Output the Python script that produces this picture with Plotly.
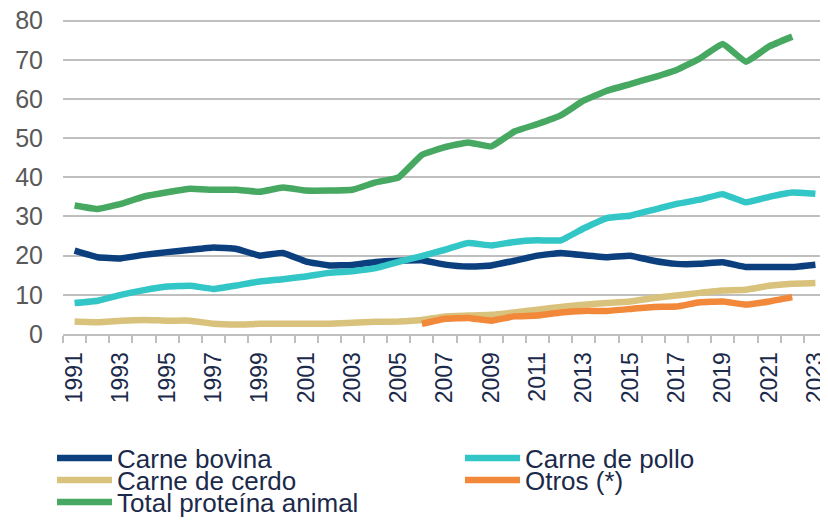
import plotly.graph_objects as go

years = list(range(1991, 2024))

carne_bovina = [21.3, 19.6, 19.3, 20.2, 20.9, 21.5, 22.1, 21.7, 20.0, 20.7,
                18.5, 17.5, 17.6, 18.4, 18.7, 18.8, 17.7, 17.2, 17.5, 18.7,
                20.0, 20.7, 20.1, 19.6, 20.0, 18.7, 17.9, 17.9, 18.3, 17.1,
                17.1, 17.1, 17.7]
carne_pollo = [7.9, 8.5, 10.0, 11.2, 12.1, 12.3, 11.5, 12.4, 13.4, 14.0,
               14.7, 15.6, 16.0, 16.8, 18.4, 19.9, 21.5, 23.2, 22.6, 23.5,
               23.9, 23.9, 27.0, 29.6, 30.2, 31.7, 33.2, 34.3, 35.7, 33.6,
               35.0, 36.1, 35.8]
carne_cerdo = [3.2, 3.0, 3.4, 3.6, 3.4, 3.4, 2.6, 2.4, 2.6, 2.6,
               2.6, 2.6, 2.9, 3.1, 3.2, 3.6, 4.5, 4.7, 4.9, 5.5,
               6.2, 6.9, 7.5, 7.9, 8.3, 9.2, 9.8, 10.5, 11.1, 11.3,
               12.3, 12.8, 13.0]
otros = [None] * 15 + [2.6, 3.9, 4.1, 3.4, 4.5, 4.7, 5.5, 5.9, 5.9, 6.4,
                       6.9, 7.0, 8.1, 8.3, 7.5, 8.3, 9.4, None]
total = [32.8, 31.9, 33.2, 35.1, 36.2, 37.1, 36.8, 36.8, 36.3, 37.4,
         36.6, 36.6, 36.8, 38.7, 40.0, 45.7, 47.7, 48.9, 47.9, 51.7,
         53.6, 55.8, 59.6, 62.1, 63.8, 65.5, 67.4, 70.3, 74.0, 69.5,
         73.4, 75.9, None]

tick_years = list(range(1991, 2024, 2))
y_ticks = [0, 10, 20, 30, 40, 50, 60, 70, 80]

# (name, values, colour, legend row, legend column width)
series = [
    ("Carne bovina", carne_bovina, "#0B3F7E", "legend", 338),
    ("Carne de pollo", carne_pollo, "#33C6C6", "legend", 200),
    ("Carne de cerdo", carne_cerdo, "#D9C27C", "legend2", 338),
    ("Otros (*)", otros, "#F2883A", "legend2", 200),
    ("Total proteína animal", total, "#47A862", "legend3", 338),
]

FONT = "Liberation Sans, Arial, sans-serif"
# page body has an 8px margin; figure fills the rest of the 828x522 window
W, H = 820, 514

fig = go.Figure()
for name, vals, color, lg, lw in series:
    fig.add_trace(go.Scatter(
        x=years, y=vals, name=name, mode="lines",
        line=dict(color=color, width=6.5, shape="spline", smoothing=0.3),
        connectgaps=False, legend=lg, legendwidth=lw,
    ))

ITEMW = 55
row_centers = [450, 472, 494]
legend_common = dict(
    orientation="h", xref="container", yref="container",
    x=44 / W, xanchor="left", yanchor="top",
    font=dict(family=FONT, size=26, color="#1B2A4A"),
    itemwidth=ITEMW, entrywidthmode="pixels",
    bgcolor="rgba(0,0,0,0)", borderwidth=0, tracegroupgap=0,
    traceorder="normal",
)


def legend_at(yc):
    top = yc - 23.5
    d = dict(legend_common)
    d["y"] = 1 - top / H
    return d


fig.update_layout(
    width=W, height=H,
    margin=dict(l=55, r=1, t=10.9, b=H - 326.3, autoexpand=False),
    paper_bgcolor="white", plot_bgcolor="white",
    font=dict(family=FONT),
    showlegend=True,
    legend=legend_at(row_centers[0]),
    legend2=legend_at(row_centers[1]),
    legend3=legend_at(row_centers[2]),
    xaxis=dict(
        range=[1990.5, 2023.5],
        tickmode="array", tickvals=tick_years,
        ticktext=[str(y) for y in tick_years],
        tickangle=-90,
        tickfont=dict(family=FONT, size=23, color="#1B2A4A"),
        ticks="", showgrid=False, zeroline=False,
        showline=True, linecolor="#BFBFBF", linewidth=2,
        ticklabelstandoff=7,
        minor=dict(tickmode="linear", tick0=1990.5, dtick=1, ticks="outside",
                   ticklen=7, tickcolor="#BFBFBF", tickwidth=1.5, showgrid=False),
    ),
    yaxis=dict(
        range=[0, 80.4],
        tickmode="array", tickvals=y_ticks,
        ticktext=[str(v) for v in y_ticks],
        tickfont=dict(family=FONT, size=25, color="#595959"),
        ticklabeloverflow="allow",
        showgrid=True, gridcolor="#BFBFBF", gridwidth=2,
        zeroline=False, ticks="", ticklabelstandoff=19,
    ),
)

fig.write_html("out.html")
